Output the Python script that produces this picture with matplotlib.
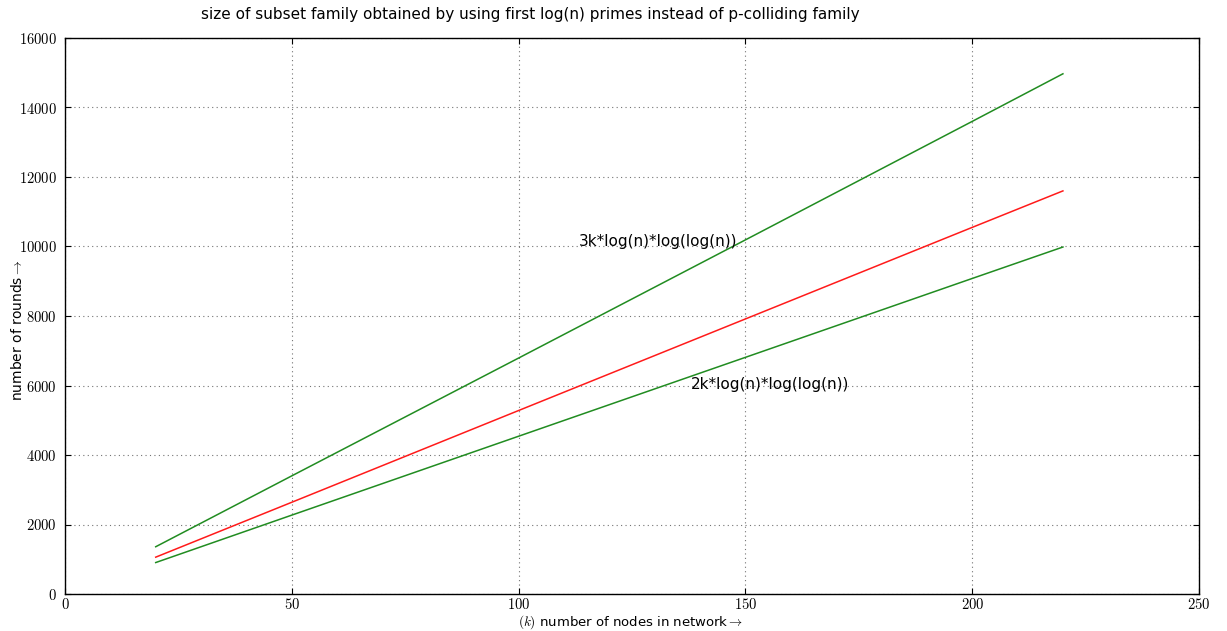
import matplotlib
matplotlib.use("Agg")
import matplotlib.pyplot as plt
from matplotlib.ticker import FuncFormatter

k_values = [20, 50, 100, 150, 200, 220]
upper_3k = [1360, 3400, 6790, 10190, 13600, 14970]
middle = [1060, 2640, 5280, 7915, 10550, 11600]
lower_2k = [905, 2270, 4540, 6810, 9080, 9985]

title = "size of subset family obtained by using first log(n) primes instead of p-colliding family"
label_3k = "3k*log(n)*log(log(n))"
label_2k = "2k*log(n)*log(log(n))"

plt.rcParams['mathtext.fontset'] = 'cm'
plt.rcParams['font.family'] = ['DejaVu Sans']

fig = plt.figure(figsize=(12.27, 6.31), dpi=100)
ax = fig.add_axes([65/1227, 1-594/631, (1199-65)/1227, (594-38)/631])

green = (0.13, 0.55, 0.13)
ax.plot(k_values, upper_3k, color=green, lw=1.1)
ax.plot(k_values, middle, color=(1, 0.1, 0.1), lw=1.1)
ax.plot(k_values, lower_2k, color=green, lw=1.1)

ax.text(113.3, 10150, label_3k, fontsize=11, va='center', ha='left')
ax.text(138.0, 6040, label_2k, fontsize=11, va='center', ha='left')

ax.set_xlim(0, 250)
ax.set_ylim(0, 16000)
ax.set_xticks([0, 50, 100, 150, 200, 250])
ax.set_yticks(range(0, 16001, 2000))
fmt = FuncFormatter(lambda v, p: r'$%d$' % int(round(v)))
ax.xaxis.set_major_formatter(fmt)
ax.yaxis.set_major_formatter(fmt)
ax.tick_params(direction='in', top=True, right=True, length=4, labelsize=10.5)
ax.tick_params(axis='x', pad=2.5)
ax.tick_params(axis='y', pad=6)
ax.grid(True, color='0.45', linestyle=(0, (1, 3)), linewidth=0.8)
for s in ax.spines.values():
    s.set_linewidth(1.0)

ax.set_xlabel(r'$(k)$ number of nodes in network$\rightarrow$', fontsize=9.5, va='center')
ax.xaxis.set_label_coords(0.499, -0.051)
ax.set_ylabel(r'number of rounds$\rightarrow$', fontsize=10, va='center')
ax.yaxis.set_label_coords(-0.0415, 0.475)

fig.text(530/1227, 1-14/631, title, fontsize=11, ha='center', va='center')

fig.savefig('out.png', dpi=100, facecolor='white')
